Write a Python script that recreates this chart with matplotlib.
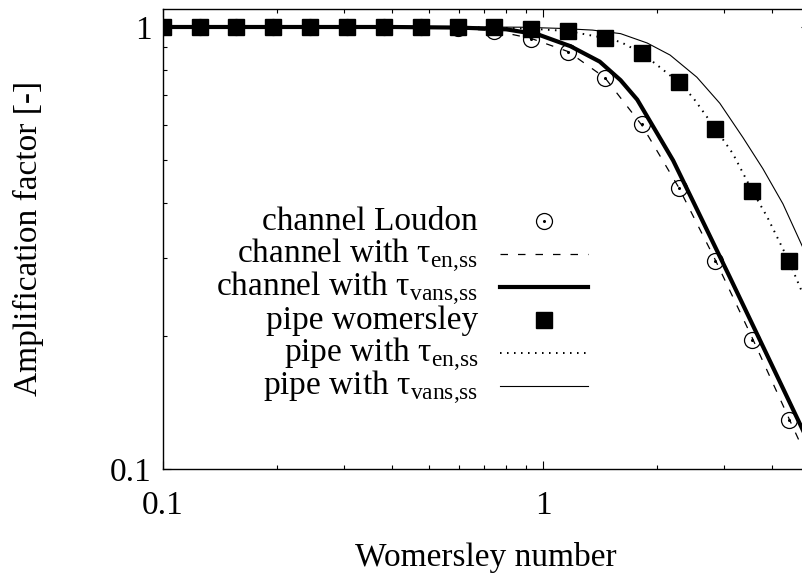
import matplotlib.pyplot as plt
from matplotlib.lines import Line2D
from matplotlib.ticker import LogLocator, FuncFormatter, NullFormatter

plt.rcParams["font.family"] = ["Liberation Serif", "DejaVu Serif"]
plt.rcParams["mathtext.fontset"] = "custom"
plt.rcParams["mathtext.rm"] = "Liberation Serif"

# Womersley numbers of the sampled points
wo_points = [0.1, 0.125, 0.156, 0.195, 0.244, 0.305, 0.381, 0.477, 0.596,
             0.745, 0.931, 1.164, 1.455, 1.819, 2.274, 2.842, 3.553, 4.441]
loudon_channel = [1.0, 1.0, 1.0, 1.0, 1.0, 1.0, 1.0, 1.0, 0.995,
                  0.979, 0.939, 0.877, 0.766, 0.602, 0.433, 0.295, 0.196, 0.129]
womersley_pipe = [1.0, 1.0, 1.0, 1.0, 1.0, 1.0, 1.0, 1.0, 1.0,
                  1.0, 0.990, 0.979, 0.944, 0.873, 0.750, 0.589, 0.426, 0.295]

# model curves
channel_en_wo = [0.1, 0.4, 0.55, 0.745, 0.931, 1.164, 1.455, 1.819, 2.274,
                 2.842, 3.553, 4.441, 5.0]
channel_en_amp = [1.0, 1.0, 0.997, 0.981, 0.942, 0.880, 0.768, 0.600, 0.434,
                  0.297, 0.198, 0.130, 0.104]

channel_vans_wo = [0.1, 0.4, 0.6, 0.8, 0.97, 1.18, 1.41, 1.6, 1.77, 1.95,
                   2.2, 2.48, 3.1, 3.72, 4.3, 5.0]
channel_vans_amp = [1.0, 1.0, 0.997, 0.988, 0.962, 0.905, 0.835, 0.758, 0.685,
                    0.595, 0.499, 0.404, 0.272, 0.196, 0.151, 0.115]

pipe_en_wo = [0.1, 0.5, 0.745, 0.931, 1.164, 1.455, 1.6, 1.819, 2.03, 2.274,
              2.48, 2.842, 3.16, 3.553, 3.89, 4.441, 5.0]
pipe_en_amp = [1.0, 1.0, 0.997, 0.991, 0.979, 0.944, 0.925, 0.873, 0.811,
               0.750, 0.693, 0.589, 0.517, 0.426, 0.372, 0.295, 0.232]

pipe_vans_wo = [0.1, 0.6, 0.87, 1.1, 1.35, 1.6, 1.88, 2.16, 2.54, 2.92,
                3.36, 3.79, 4.28, 5.0]
pipe_vans_amp = [1.0, 1.0, 0.999, 0.993, 0.984, 0.966, 0.920, 0.864, 0.770,
                 0.672, 0.562, 0.478, 0.398, 0.297]

legend_labels = [
    "channel Loudon",
    r"channel with τ$_{\mathregular{en{,}ss}}$",
    r"channel with τ$_{\mathregular{vans{,}ss}}$",
    "pipe womersley",
    r"pipe with τ$_{\mathregular{en{,}ss}}$",
    r"pipe with τ$_{\mathregular{vans{,}ss}}$",
]

FS = 24
W, H = 803, 575
# plot box in pixels (origin top-left), right border falls just off the image
AX_L, AX_T, AX_R, AX_B = 163, 8.7, 808.6, 469


def to_axes(px, py):
    return (px - AX_L) / (AX_R - AX_L), (AX_B - py) / (AX_B - AX_T)


fig = plt.figure(figsize=(W / 100, H / 100), dpi=100)
ax = fig.add_axes([AX_L / W, (H - AX_B) / H, (AX_R - AX_L) / W, (AX_B - AX_T) / H])

circles, = ax.plot(wo_points, loudon_channel, ls="none", marker="o", ms=11.5,
                   mfc="white", mec="black", mew=0.9)
dots, = ax.plot(wo_points, loudon_channel, ls="none", marker="o", ms=1.2,
                color="black")
ch_en, = ax.plot(channel_en_wo, channel_en_amp, color="black", lw=0.9,
                 dashes=(6, 8))
ch_vans, = ax.plot(channel_vans_wo, channel_vans_amp, color="black", lw=3.0)
squares, = ax.plot(wo_points, womersley_pipe, ls="none", marker="s", ms=11,
                   color="black")
pi_en, = ax.plot(pipe_en_wo, pipe_en_amp, color="black", lw=1.4,
                 dashes=(0.8, 2.8))
pi_vans, = ax.plot(pipe_vans_wo, pipe_vans_amp, color="black", lw=0.8)

ax.set_xscale("log")
ax.set_yscale("log")
ax.set_xlim(0.1, 5)
ax.set_ylim(0.1, 1.1)

fmt = FuncFormatter(lambda v, _: f"{v:g}")
for axis in (ax.xaxis, ax.yaxis):
    axis.set_major_locator(LogLocator(base=10))
    axis.set_minor_locator(LogLocator(base=10, subs=range(2, 10)))
    axis.set_major_formatter(fmt)
    axis.set_minor_formatter(NullFormatter())

ax.tick_params(which="both", direction="in", top=True, right=True,
               labelsize=FS, width=0.8)
ax.tick_params(which="major", length=6)
ax.tick_params(which="minor", length=3)
ax.tick_params(axis="x", pad=15.5)
ax.tick_params(axis="y", pad=8)
for sp in ax.spines.values():
    sp.set_linewidth(1.0)

ax.set_xlabel("Womersley number", fontsize=FS)
ax.set_ylabel("Amplification factor [-]", fontsize=FS)
ax.xaxis.set_label_coords(0.5, -0.1586)
ax.yaxis.set_label_coords(-0.184, 0.5)


def legend_key(src, xs, ys):
    key = Line2D(xs, ys)
    key.update_from(src)
    key.set_transform(ax.transAxes)
    key.set_clip_on(False)
    ax.add_line(key)


# gnuplot style key: labels right aligned, sample to the right
key_handles = [(circles, dots), (ch_en,), (ch_vans,), (squares,), (pi_en,), (pi_vans,)]
text_right, key_left, key_right = 478, 500, 588
row_top, row_step = 221, 33
for i, (group, label) in enumerate(zip(key_handles, legend_labels)):
    py = row_top + i * row_step
    x0, y = to_axes(key_left, py)
    x1, _ = to_axes(key_right, py)
    for src in group:
        if src.get_linestyle() == "None":
            legend_key(src, [(x0 + x1) / 2], [y])
        else:
            legend_key(src, [x0, x1], [y, y])
    tx, ty = to_axes(text_right, py + 9)
    ax.text(tx, ty, label, transform=ax.transAxes, ha="right", va="baseline",
            fontsize=FS)

fig.savefig("out.png", dpi=100)
